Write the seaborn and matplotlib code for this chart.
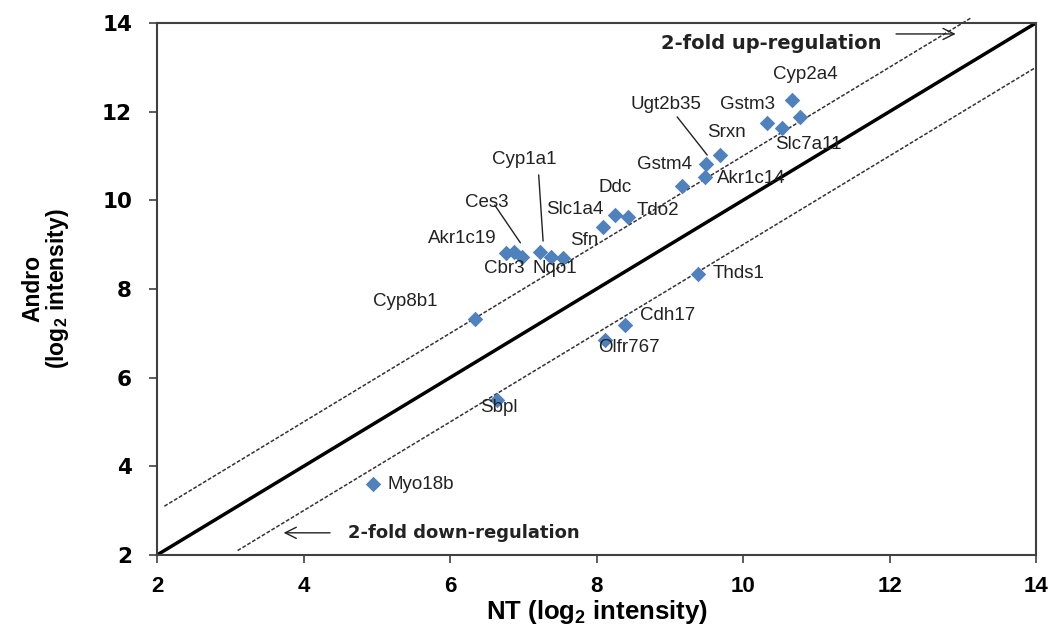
import matplotlib
matplotlib.use("Agg")
import matplotlib.pyplot as plt
import seaborn as sns
import pandas as pd

# ---- data ----
genes = ["Myo18b", "Sbpl", "Cyp8b1", "Olfr767", "Cdh17", "Thds1",
         "Akr1c19", "Cbr3", "Ces3", "Cyp1a1", "Nqo1", "Slc1a4",
         "Sfn", "Ddc", "Tdo2", "Gstm4", "Akr1c14", "Ugt2b35", "Srxn",
         "Gstm3", "Slc7a11", "Cyp2a4", ""]
nt = [4.95, 6.64, 6.34, 8.12, 8.39, 9.39,
      6.76, 6.87, 6.98, 7.23, 7.38, 7.54,
      8.09, 8.25, 8.43, 9.16, 9.48, 9.49, 9.69,
      10.33, 10.53, 10.67, 10.78]
andro = [3.60, 5.50, 7.32, 6.85, 7.19, 8.34,
         8.81, 8.83, 8.72, 8.83, 8.72, 8.70,
         9.40, 9.67, 9.62, 10.32, 10.52, 10.82, 11.02,
         11.74, 11.63, 12.26, 11.88]
ticks = [2, 4, 6, 8, 10, 12, 14]

# label placement (x-left, y-center) in data units
label_pos = {
    "Myo18b": (5.15, 3.60), "Sbpl": (6.41, 5.32), "Cyp8b1": (4.95, 7.71),
    "Olfr767": (8.02, 6.67), "Cdh17": (8.59, 7.41), "Thds1": (9.59, 8.34),
    "Akr1c19": (5.70, 9.13), "Cbr3": (6.46, 8.47), "Ces3": (6.20, 9.94),
    "Cyp1a1": (6.57, 10.91), "Nqo1": (7.13, 8.47), "Slc1a4": (7.31, 9.78),
    "Sfn": (7.64, 9.10), "Ddc": (8.02, 10.28), "Tdo2": (8.55, 9.76),
    "Gstm4": (8.55, 10.80), "Ugt2b35": (8.46, 12.15), "Srxn": (9.51, 11.52),
    "Akr1c14": (9.64, 10.50), "Gstm3": (9.69, 12.17), "Cyp2a4": (10.41, 12.83),
    "Slc7a11": (10.44, 11.25),
}
leaders = {
    "Ces3": ((6.61, 9.89), (6.96, 9.04)),
    "Cyp1a1": ((7.21, 10.57), (7.27, 9.08)),
    "Ugt2b35": ((9.10, 11.88), (9.51, 11.02)),
}

df = pd.DataFrame({"gene": genes, "NT": nt, "Andro": andro})

sns.set_theme(style="white")
plt.rcParams["font.family"] = ["Liberation Sans", "DejaVu Sans"]
plt.rcParams["mathtext.default"] = "regular"

fig = plt.figure(figsize=(10.54, 6.35), dpi=100)
ax = fig.add_axes([0.149, 0.126, 0.834, 0.838])

# reference lines
ax.plot([2, 14], [2, 14], color="black", lw=2.5, zorder=2)
ax.plot([2.1, 13.12], [3.1, 14.12], color="#333333", lw=1.1, ls=(0, (2.5, 1.2)), zorder=2, clip_on=False)
ax.plot([3.1, 14], [2.1, 13.0], color="#333333", lw=1.1, ls=(0, (2.5, 1.2)), zorder=2)

sns.scatterplot(data=df, x="NT", y="Andro", marker="D", s=62, color="#4F81BD",
                linewidth=0, ax=ax, zorder=3, legend=False)

for g, (lx, ly) in label_pos.items():
    ax.text(lx, ly, g, ha="left", va="center", fontsize=13.5, color="#222222", zorder=4)
for g, (p0, p1) in leaders.items():
    ax.plot([p0[0], p1[0]], [p0[1], p1[1]], color="#222222", lw=1.0, zorder=4)

# annotations
ax.annotate("", xy=(12.94, 13.75), xytext=(12.05, 13.75),
            arrowprops=dict(arrowstyle="->", color="#222222", lw=1.0, mutation_scale=20))
ax.text(8.88, 13.53, "2-fold up-regulation", ha="left", va="center", fontsize=14,
        fontweight="bold", family="DejaVu Sans", color="#222222")
ax.annotate("", xy=(3.69, 2.50), xytext=(4.40, 2.50),
            arrowprops=dict(arrowstyle="->", color="#222222", lw=1.0, mutation_scale=20))
ax.text(4.60, 2.50, "2-fold down-regulation", ha="left", va="center", fontsize=13,
        fontweight="bold", family="DejaVu Sans", color="#222222")

ax.set_xlim(2, 14)
ax.set_ylim(2, 14)
ax.set_xticks(ticks)
ax.set_yticks(ticks)
ax.set_xticklabels([str(t) for t in ticks], fontweight="bold", fontsize=16, color="black")
ax.set_yticklabels([str(t) for t in ticks], fontweight="bold", fontsize=15.5, color="black",
                   family="DejaVu Sans")
ax.tick_params(axis="both", direction="out", length=6, width=1.2, color="#404040",
               bottom=True, left=True)
ax.tick_params(axis="x", pad=9)
ax.tick_params(axis="y", pad=12)
for sp in ax.spines.values():
    sp.set_visible(True)
    sp.set_color("#404040")
    sp.set_linewidth(1.5)

ax.set_xlabel("NT (log$_2$ intensity)", fontsize=18.5, fontweight="bold", labelpad=1, color="black")
ax.set_ylabel("Andro\n(log$_2$ intensity)", fontsize=16.5, fontweight="bold", labelpad=22,
              linespacing=1.0, color="black")

fig.savefig("out.png", dpi=100)
